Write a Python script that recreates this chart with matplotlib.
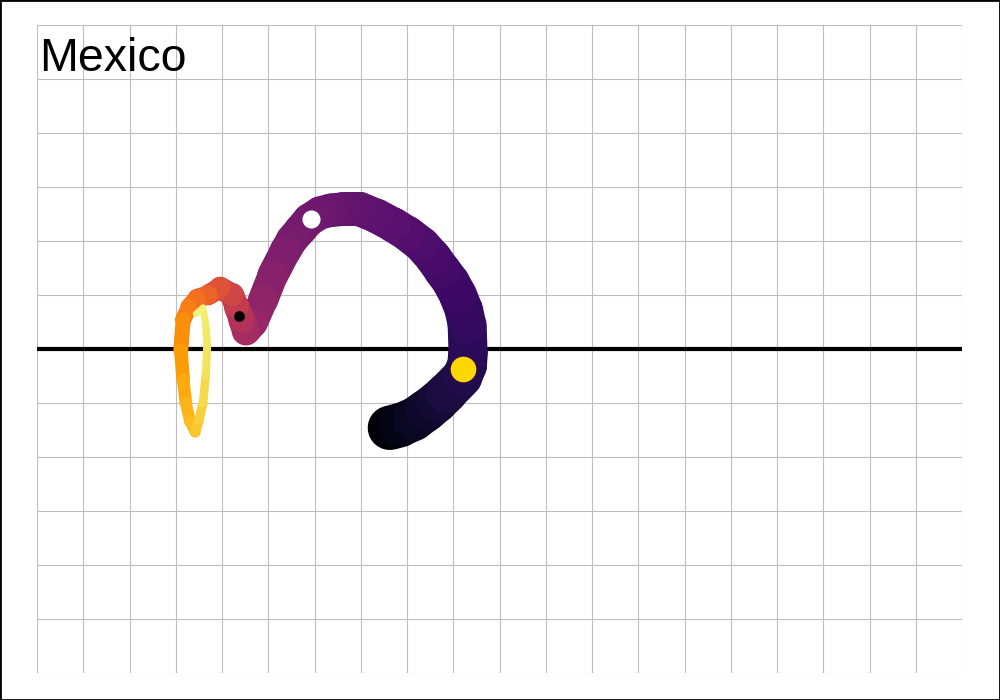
import numpy as np
import matplotlib
matplotlib.use("Agg")
import matplotlib.pyplot as plt
from matplotlib.collections import LineCollection
from matplotlib.patches import Rectangle

# path, in time order (black start -> yellow end)
xs = [7.63, 7.85, 8.15, 8.43, 8.65, 8.86, 9.19, 9.30, 9.32, 9.30,
      9.23, 9.10, 8.95, 8.76, 8.56, 8.32, 8.02, 7.70, 7.35, 6.98,
      6.62, 6.36, 6.12, 5.88, 5.69, 5.51, 5.36, 5.10, 4.89, 4.67,
      4.52, 4.43, 4.32, 4.22, 3.96, 3.70, 3.46, 3.29, 3.16, 3.11,
      3.16, 3.22, 3.31, 3.42, 3.50, 3.59, 3.65, 3.68, 3.65, 3.59,
      3.44]
ys = [-1.46, -1.41, -1.30, -1.13, -0.98, -0.81, -0.52, -0.30, -0.06, 0.44,
      0.72, 1.00, 1.24, 1.46, 1.70, 1.93, 2.13, 2.30, 2.46, 2.59,
      2.59, 2.57, 2.52, 2.39, 2.20, 2.02, 1.80, 1.37, 0.91, 0.48,
      0.33, 0.54, 0.78, 1.00, 1.13, 1.00, 0.94, 0.78, 0.54, -0.02,
      -0.57, -1.00, -1.35, -1.54, -1.31, -1.00, -0.48, 0.07, 0.44, 0.76,
      0.65]
# relative time of each point (0 = first day, 1 = last day)
ts = [0.00, 0.03, 0.05, 0.07, 0.085, 0.10, 0.12, 0.13, 0.14, 0.16,
      0.17, 0.18, 0.19, 0.20, 0.21, 0.22, 0.235, 0.25, 0.26, 0.27,
      0.28, 0.29, 0.30, 0.31, 0.32, 0.33, 0.34, 0.36, 0.38, 0.40,
      0.42, 0.46, 0.50, 0.54, 0.58, 0.63, 0.67, 0.70, 0.73, 0.77,
      0.80, 0.82, 0.84, 0.86, 0.88, 0.90, 0.92, 0.93, 0.94, 0.95,
      0.97]

white_pt = (5.92, 2.41)
black_pt = (4.37, 0.61)
gold_pt = (9.21, -0.37)
title = "Mexico"

fig = plt.figure(figsize=(10, 7), dpi=100)
ax = fig.add_axes([0.037, 0.0386, 0.925, 0.9257])
ax.set_xlim(0, 20)
ax.set_ylim(-6, 6)
ax.set_xticks(range(0, 21))
ax.set_yticks(range(-6, 7))
ax.tick_params(length=0, labelbottom=False, labelleft=False)
ax.grid(True, color="#bebebe", lw=0.8)
ax.set_axisbelow(True)
for s in ax.spines.values():
    s.set_visible(False)

ax.axhline(0, color="black", lw=3, zorder=2)

pts = np.column_stack([xs, ys])
segs = np.stack([pts[:-1], pts[1:]], axis=1)
tmid = (np.array(ts[:-1]) + np.array(ts[1:])) / 2
cmap = plt.get_cmap("inferno")
# width shrinks over time
widths = (45 - 40 * tmid) * 0.72
lc = LineCollection(segs, colors=cmap(tmid), linewidths=widths,
                    capstyle="round", joinstyle="round", zorder=3)
ax.add_collection(lc)

ax.scatter(*white_pt, s=170, color="white", zorder=4, linewidths=0)
ax.scatter(*black_pt, s=60, color="black", zorder=4, linewidths=0)
ax.scatter(*gold_pt, s=340, color="#FFD700", zorder=4, linewidths=0)

fig.text(0.039, 1 - 71 / 700, title, fontsize=33.5, family="Liberation Sans",
         va="baseline", ha="left")

fig.patches.append(Rectangle((0, 0), 1, 1, transform=fig.transFigure,
                             fill=False, edgecolor="black", lw=2))

fig.savefig("out.png", dpi=100)
